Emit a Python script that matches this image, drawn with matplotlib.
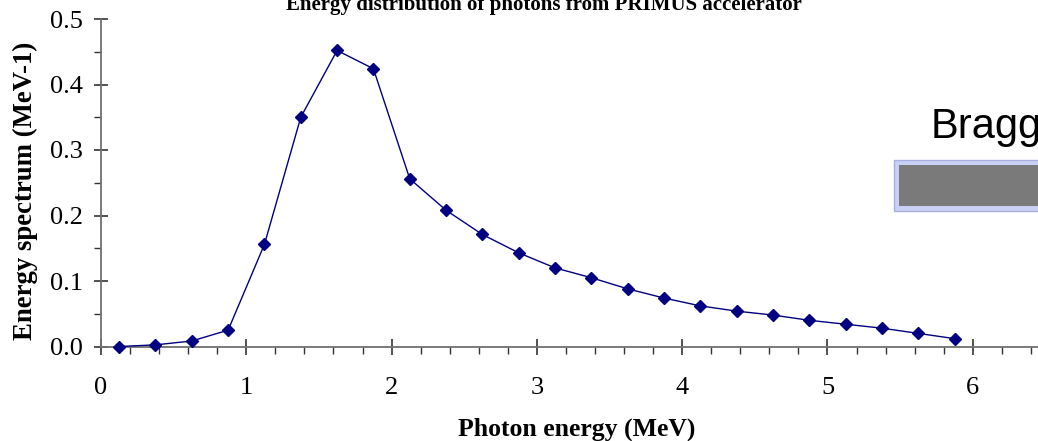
import matplotlib
matplotlib.use("Agg")
import matplotlib.pyplot as plt
from matplotlib.patches import Rectangle
from matplotlib.ticker import MultipleLocator, FixedLocator

# Data
energy_mev = [0.125, 0.375, 0.625, 0.875, 1.125, 1.375, 1.625, 1.875, 2.125, 2.375,
              2.625, 2.875, 3.125, 3.375, 3.625, 3.875, 4.125, 4.375, 4.625, 4.875,
              5.125, 5.375, 5.625, 5.875]
spectrum = [0.0, 0.0025, 0.0084, 0.025, 0.156, 0.350, 0.452, 0.424, 0.256, 0.208,
            0.171, 0.143, 0.120, 0.105, 0.088, 0.074, 0.062, 0.054, 0.048, 0.040,
            0.034, 0.028, 0.020, 0.012]
x_ticks = [0, 1, 2, 3, 4, 5, 6]
y_ticks = [0.0, 0.1, 0.2, 0.3, 0.4, 0.5]
y_tick_labels = ["0.0", "0.1", "0.2", "0.3", "0.4", "0.5"]

serif = ["Liberation Serif", "DejaVu Serif"]
W, H = 1038, 441

fig = plt.figure(figsize=(10.38, 4.41), dpi=100)
ax = fig.add_axes([101 / W, 1 - 346.5 / H, 1 - 101 / W, (346.5 - 19) / H])

ax.plot(energy_mev, spectrum, color="#000080", linewidth=1.0,
        marker="D", markersize=6.3, markerfacecolor="#000080",
        markeredgecolor="#000080", zorder=3, clip_on=False)

ax.set_xlim(0, 6.449)
ax.set_ylim(0, 0.5)

axis_col = "#707070"
for s in ["top", "right"]:
    ax.spines[s].set_visible(False)
for s in ["left", "bottom"]:
    ax.spines[s].set_color(axis_col)
    ax.spines[s].set_linewidth(1.3)

ax.xaxis.set_major_locator(FixedLocator(x_ticks))
ax.xaxis.set_minor_locator(MultipleLocator(0.2))
ax.yaxis.set_major_locator(FixedLocator(y_ticks))
ax.yaxis.set_minor_locator(MultipleLocator(0.05))
ax.set_yticklabels(y_tick_labels)

ax.tick_params(axis="x", which="major", direction="inout", length=12, width=1.2,
               color="#333333", labelsize=19, pad=16)
ax.tick_params(axis="x", which="minor", direction="out", length=4.8, width=1.0,
               color="#333333")
ax.tick_params(axis="y", which="major", direction="inout", length=10.5, width=1.2,
               color="#333333", labelsize=19, pad=8)
ax.tick_params(axis="y", which="minor", direction="out", length=4.8, width=1.0,
               color="#333333")
for lbl in ax.get_xticklabels() + ax.get_yticklabels():
    lbl.set_family(serif)

fig.text(576.5 / W, 1 - 436 / H, "Photon energy (MeV)", family=serif, fontsize=18.5,
         fontweight="bold", ha="center", va="baseline")
fig.text(25 / W, 1 - 191 / H, "Energy spectrum (MeV-1)", family=serif, fontsize=19.3,
         fontweight="bold", ha="center", va="center", rotation=90)

fig.text(543.5 / W, 1 - 10 / H, "Energy distribution of photons from PRIMUS accelerator",
         family=serif, fontsize=15, fontweight="bold", ha="center", va="baseline")

# Overlay artifact: "Bragg" label with gray box
fig.text(931 / W, 1 - 138 / H, "Bragg", family=["Liberation Sans", "DejaVu Sans"],
         fontsize=30, ha="left", va="baseline", color="black")
fig.patches.append(Rectangle((894 / W, 1 - 211 / H), 0.2, 51 / H,
                             transform=fig.transFigure, facecolor="#c8d0f4",
                             edgecolor="#a8b0e0", linewidth=1.0))
fig.patches.append(Rectangle((899 / W, 1 - 206 / H), 0.2, 41 / H,
                             transform=fig.transFigure, facecolor="#7a7a7a",
                             edgecolor="none"))

fig.savefig("out.png", dpi=100)
